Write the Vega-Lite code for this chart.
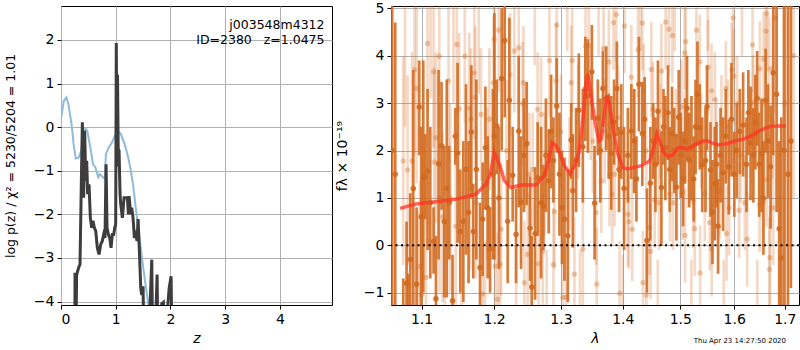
{
"$schema": "https://vega.github.io/schema/vega-lite/v6.json",
"padding": {"left": 3, "top": 0, "right": 0, "bottom": 0},
"background": "white",
"spacing": 59,
"bounds": "flush",
"config": {
 "font": "DejaVu Sans",
 "view": {"stroke": "black", "strokeWidth": 1},
 "axis": {"labelFont": "DejaVu Sans", "labelFontSize": 14, "labelColor": "black", "titleFont": "DejaVu Sans", "titleFontSize": 14, "titleFontWeight": "normal", "titleColor": "black", "tickColor": "black", "tickSize": 4, "labelPadding": 3, "domain": false, "gridColor": "#b0b0b0", "gridWidth": 1, "gridOpacity": 1},
 "title": {"font": "DejaVu Sans", "fontWeight": "normal", "color": "black"}
},
"datasets": {
 "chi2": [
  {"z":0.0,"v":0.18},{"z":0.05,"v":0.6},{"z":0.1,"v":0.68},{"z":0.14,"v":0.5},{"z":0.2,"v":0.0},{"z":0.23,"v":-0.39},{"z":0.27,"v":-0.72},{"z":0.32,"v":-0.7},{"z":0.37,"v":-0.55},{"z":0.4,"v":-0.25},{"z":0.445,"v":-0.03},{"z":0.48,"v":-0.08},{"z":0.54,"v":-0.5},{"z":0.585,"v":-0.85},{"z":0.63,"v":-0.93},{"z":0.68,"v":-1.15},{"z":0.71,"v":-1.08},{"z":0.76,"v":-1.14},{"z":0.8,"v":-1.19},{"z":0.82,"v":-0.62},{"z":0.87,"v":-0.47},{"z":0.93,"v":-0.35},{"z":0.99,"v":-0.18},{"z":1.04,"v":-0.1},{"z":1.09,"v":-0.15},{"z":1.15,"v":-0.35},{"z":1.21,"v":-0.6},{"z":1.27,"v":-0.95},{"z":1.32,"v":-1.35},{"z":1.365,"v":-1.85},{"z":1.426,"v":-2.46},{"z":1.487,"v":-3.08},{"z":1.548,"v":-3.65},{"z":1.6,"v":-4.1},{"z":1.7,"v":-5},{"z":4.9,"v":-20}
 ],
 "pz": [
  {"z":0.0,"v":-15},{"z":0.24,"v":-12},{"z":0.256,"v":-3.34},{"z":0.268,"v":-5.5},{"z":0.285,"v":-3.4},{"z":0.305,"v":-3.3},{"z":0.329,"v":-3.2},{"z":0.347,"v":-3.15},{"z":0.366,"v":-1.7},{"z":0.39,"v":0.11},{"z":0.414,"v":-1.62},{"z":0.433,"v":-0.08},{"z":0.451,"v":-1.23},{"z":0.469,"v":-0.77},{"z":0.487,"v":-1.54},{"z":0.512,"v":-1.31},{"z":0.536,"v":-2.08},{"z":0.561,"v":-2.31},{"z":0.585,"v":-2.15},{"z":0.609,"v":-2.31},{"z":0.634,"v":-2.38},{"z":0.664,"v":-2.77},{"z":0.695,"v":-2.92},{"z":0.725,"v":-2.69},{"z":0.755,"v":-2.61},{"z":0.78,"v":-2.46},{"z":0.804,"v":-2.54},{"z":0.823,"v":-0.85},{"z":0.841,"v":-2.31},{"z":0.865,"v":-2.46},{"z":0.89,"v":-2.54},{"z":0.914,"v":-2.77},{"z":0.938,"v":-2.46},{"z":0.963,"v":-2.46},{"z":0.981,"v":-2.31},{"z":0.999,"v":-2.23},{"z":1.01,"v":1.93},{"z":1.022,"v":-0.9},{"z":1.032,"v":1.2},{"z":1.045,"v":-0.5},{"z":1.06,"v":-0.54},{"z":1.079,"v":-1.54},{"z":1.091,"v":-1.77},{"z":1.121,"v":-2.08},{"z":1.152,"v":-1.62},{"z":1.182,"v":-1.62},{"z":1.213,"v":-1.62},{"z":1.231,"v":-2.0},{"z":1.243,"v":-1.58},{"z":1.274,"v":-2.0},{"z":1.292,"v":-1.85},{"z":1.316,"v":-2.08},{"z":1.34,"v":-2.54},{"z":1.365,"v":-2.46},{"z":1.389,"v":-2.61},{"z":1.408,"v":-2.11},{"z":1.432,"v":-2.85},{"z":1.457,"v":-3.69},{"z":1.475,"v":-3.85},{"z":1.499,"v":-3.65},{"z":1.524,"v":-6},{"z":1.548,"v":-4.5},{"z":1.57,"v":-6},{"z":1.658,"v":-3.04},{"z":1.682,"v":-6},{"z":1.731,"v":-4.4},{"z":1.755,"v":-3.38},{"z":1.78,"v":-6},{"z":1.84,"v":-4.05},{"z":1.87,"v":-4.02},{"z":1.9,"v":-6},{"z":1.95,"v":-4.1},{"z":1.975,"v":-3.7},{"z":2.011,"v":-3.42},{"z":2.036,"v":-6},{"z":2.3,"v":-10},{"z":4.9,"v":-20}
 ],
 "model": [
  {"w":1.072,"v":0.78},{"w":1.0927,"v":0.87},{"w":1.119,"v":0.92},{"w":1.1456,"v":0.97},{"w":1.174,"v":1.08},{"w":1.1884,"v":1.29},{"w":1.1944,"v":1.5},{"w":1.2002,"v":1.96},{"w":1.2076,"v":1.71},{"w":1.215,"v":1.36},{"w":1.2244,"v":1.22},{"w":1.2393,"v":1.27},{"w":1.2518,"v":1.27},{"w":1.2618,"v":1.27},{"w":1.2669,"v":1.36},{"w":1.2745,"v":1.47},{"w":1.2822,"v":1.85},{"w":1.2863,"v":2.17},{"w":1.2925,"v":2.1},{"w":1.2977,"v":1.96},{"w":1.3055,"v":1.68},{"w":1.3145,"v":1.51},{"w":1.3225,"v":1.71},{"w":1.3282,"v":1.96},{"w":1.3346,"v":2.63},{"w":1.34,"v":3.47},{"w":1.3427,"v":3.61},{"w":1.3466,"v":3.26},{"w":1.3547,"v":2.56},{"w":1.3605,"v":2.2},{"w":1.3644,"v":2.24},{"w":1.3687,"v":2.7},{"w":1.3736,"v":3.16},{"w":1.378,"v":2.98},{"w":1.3835,"v":2.49},{"w":1.3918,"v":1.92},{"w":1.4002,"v":1.64},{"w":1.4086,"v":1.61},{"w":1.4314,"v":1.68},{"w":1.4458,"v":1.78},{"w":1.4545,"v":2.13},{"w":1.4585,"v":2.35},{"w":1.4633,"v":2.2},{"w":1.4691,"v":1.99},{"w":1.478,"v":1.87},{"w":1.4869,"v":1.91},{"w":1.4958,"v":2.06},{"w":1.5049,"v":2.06},{"w":1.5139,"v":2.03},{"w":1.5262,"v":2.12},{"w":1.5415,"v":2.2},{"w":1.5508,"v":2.2},{"w":1.5601,"v":2.15},{"w":1.5726,"v":2.12},{"w":1.5885,"v":2.15},{"w":1.6013,"v":2.2},{"w":1.6205,"v":2.25},{"w":1.6335,"v":2.31},{"w":1.65,"v":2.42},{"w":1.6699,"v":2.51},{"w":1.6867,"v":2.52},{"w":1.7022,"v":2.52}
 ],
 "dark": [
  {"w":1.062,"f":2.0,"lo":-3.0,"hi":7.0},{"w":1.0659,"f":1.5,"lo":-1.7,"hi":4.7},{"w":1.0762,"f":-1.5,"lo":-2.3,"hi":-0.7},{"w":1.0805,"f":-0.8,"lo":-2.2,"hi":0.5},{"w":1.0827,"f":-1.5,"lo":-2.4,"hi":-0.6},{"w":1.0853,"f":-0.3,"lo":-1.7,"hi":1.1},{"w":1.0892,"f":1.2,"lo":-1.3,"hi":3.7},{"w":1.0935,"f":-0.82,"lo":-2.4,"hi":0.8},{"w":1.097,"f":2.92,"lo":1.9,"hi":3.9},{"w":1.0996,"f":0.6,"lo":-1.3,"hi":2.5},{"w":1.1023,"f":1.43,"lo":-1.0,"hi":3.9},{"w":1.1049,"f":1.44,"lo":0.55,"hi":2.35},{"w":1.108,"f":1.57,"lo":-0.1,"hi":3.3},{"w":1.1116,"f":0.9,"lo":-0.7,"hi":2.5},{"w":1.116,"f":0.08,"lo":-0.6,"hi":0.8},{"w":1.1192,"f":-1.13,"lo":-2.4,"hi":0.2},{"w":1.1227,"f":1.72,"lo":-0.3,"hi":3.7},{"w":1.1267,"f":2.1,"lo":0.75,"hi":3.45},{"w":1.1304,"f":0.5,"lo":-1.1,"hi":2.1},{"w":1.1338,"f":1.2,"lo":-1.1,"hi":3.5},{"w":1.1372,"f":0.9,"lo":-0.3,"hi":2.1},{"w":1.1417,"f":-1.17,"lo":-2.2,"hi":-0.2},{"w":1.1454,"f":2.3,"lo":1.7,"hi":2.9},{"w":1.1486,"f":1.95,"lo":0.05,"hi":3.85},{"w":1.1523,"f":0.29,"lo":-1.0,"hi":1.6},{"w":1.1565,"f":0.51,"lo":-1.2,"hi":2.2},{"w":1.1602,"f":1.6,"lo":-0.2,"hi":3.4},{"w":1.1638,"f":0.69,"lo":-0.8,"hi":2.2},{"w":1.1676,"f":2.39,"lo":1.0,"hi":3.8},{"w":1.1704,"f":0.29,"lo":-0.7,"hi":1.3},{"w":1.1747,"f":1.6,"lo":-0.3,"hi":3.5},{"w":1.1799,"f":-0.47,"lo":-1.9,"hi":0.9},{"w":1.1836,"f":0.55,"lo":-0.65,"hi":1.75},{"w":1.1875,"f":2.06,"lo":0.75,"hi":3.35},{"w":1.1908,"f":0.79,"lo":-0.7,"hi":2.3},{"w":1.1942,"f":-0.08,"lo":-1.0,"hi":0.8},{"w":1.1982,"f":1.5,"lo":-0.3,"hi":3.3},{"w":1.2004,"f":2.3,"lo":-0.3,"hi":4.9},{"w":1.2037,"f":2.52,"lo":1.5,"hi":3.5},{"w":1.2069,"f":1.0,"lo":-0.5,"hi":2.5},{"w":1.2109,"f":3.52,"lo":2.0,"hi":5.0},{"w":1.2153,"f":4.32,"lo":2.7,"hi":5.9},{"w":1.2197,"f":0.51,"lo":-0.8,"hi":1.8},{"w":1.2221,"f":3.06,"lo":1.3,"hi":4.8},{"w":1.227,"f":1.48,"lo":0.5,"hi":2.5},{"w":1.232,"f":0.23,"lo":-0.8,"hi":1.2},{"w":1.2359,"f":2.41,"lo":0.8,"hi":4.0},{"w":1.2394,"f":0.91,"lo":-0.5,"hi":2.3},{"w":1.2436,"f":1.9,"lo":0.7,"hi":3.1},{"w":1.2478,"f":2.15,"lo":0.85,"hi":3.45},{"w":1.2529,"f":0.36,"lo":-0.75,"hi":1.45},{"w":1.2553,"f":-0.88,"lo":-2.0,"hi":0.2},{"w":1.2604,"f":0.25,"lo":-1.15,"hi":1.65},{"w":1.2643,"f":1.43,"lo":0.2,"hi":2.6},{"w":1.2695,"f":0.9,"lo":-0.7,"hi":2.5},{"w":1.273,"f":0.83,"lo":-0.1,"hi":1.7},{"w":1.2768,"f":1.9,"lo":0.7,"hi":3.1},{"w":1.2811,"f":1.36,"lo":0.25,"hi":2.45},{"w":1.2848,"f":2.4,"lo":1.2,"hi":3.6},{"w":1.2884,"f":1.79,"lo":0.9,"hi":2.7},{"w":1.2935,"f":2.94,"lo":1.95,"hi":3.95},{"w":1.2977,"f":1.5,"lo":0.2,"hi":2.8},{"w":1.3016,"f":0.8,"lo":-0.4,"hi":2.0},{"w":1.3055,"f":0.55,"lo":-0.75,"hi":1.85},{"w":1.3108,"f":0.2,"lo":-1.2,"hi":1.6},{"w":1.3161,"f":2.22,"lo":1.4,"hi":3.0},{"w":1.3187,"f":1.15,"lo":-0.05,"hi":2.35},{"w":1.3238,"f":1.8,"lo":0.7,"hi":2.9},{"w":1.3282,"f":2.85,"lo":1.65,"hi":4.05},{"w":1.3346,"f":2.08,"lo":0.9,"hi":3.3},{"w":1.3386,"f":3.3,"lo":2.2,"hi":4.4},{"w":1.3426,"f":3.15,"lo":1.95,"hi":4.35},{"w":1.3491,"f":3.66,"lo":2.65,"hi":4.65},{"w":1.3535,"f":0.89,"lo":-0.3,"hi":2.1},{"w":1.3588,"f":2.68,"lo":1.9,"hi":3.5},{"w":1.3629,"f":2.0,"lo":0.9,"hi":3.1},{"w":1.367,"f":3.31,"lo":2.5,"hi":4.1},{"w":1.3725,"f":3.09,"lo":2.0,"hi":4.2},{"w":1.3767,"f":2.3,"lo":1.4,"hi":3.2},{"w":1.3808,"f":1.95,"lo":0.75,"hi":3.15},{"w":1.3854,"f":2.6,"lo":1.7,"hi":3.5},{"w":1.3901,"f":3.31,"lo":2.3,"hi":4.3},{"w":1.3938,"f":1.6,"lo":0.7,"hi":2.5},{"w":1.3975,"f":2.38,"lo":1.4,"hi":3.4},{"w":1.4022,"f":1.2,"lo":-0.1,"hi":2.5},{"w":1.4086,"f":1.9,"lo":0.9,"hi":2.9},{"w":1.4144,"f":2.41,"lo":1.4,"hi":3.4},{"w":1.4192,"f":2.2,"lo":1.1,"hi":3.3},{"w":1.4231,"f":1.4,"lo":0.5,"hi":2.3},{"w":1.4274,"f":3.4,"lo":2.4,"hi":4.4},{"w":1.4332,"f":2.36,"lo":1.25,"hi":3.45},{"w":1.4372,"f":2.66,"lo":1.75,"hi":3.55},{"w":1.4412,"f":0.1,"lo":-1.0,"hi":1.2},{"w":1.447,"f":1.31,"lo":0.1,"hi":2.5},{"w":1.4519,"f":2.2,"lo":1.4,"hi":3.0},{"w":1.4559,"f":1.7,"lo":0.7,"hi":2.7},{"w":1.4603,"f":2.83,"lo":1.7,"hi":3.9},{"w":1.4663,"f":1.22,"lo":0.0,"hi":2.4},{"w":1.47,"f":2.5,"lo":1.7,"hi":3.3},{"w":1.4733,"f":2.06,"lo":0.95,"hi":3.15},{"w":1.478,"f":2.8,"lo":1.8,"hi":3.8},{"w":1.481,"f":1.6,"lo":0.7,"hi":2.5},{"w":1.4851,"f":2.36,"lo":1.35,"hi":3.35},{"w":1.489,"f":2.0,"lo":1.1,"hi":2.9},{"w":1.493,"f":1.23,"lo":0.1,"hi":2.35},{"w":1.4971,"f":2.7,"lo":1.7,"hi":3.7},{"w":1.5007,"f":1.9,"lo":1.0,"hi":2.8},{"w":1.5049,"f":1.41,"lo":0.4,"hi":2.4},{"w":1.5085,"f":2.2,"lo":1.3,"hi":3.1},{"w":1.5121,"f":2.89,"lo":1.8,"hi":4.0},{"w":1.5161,"f":1.8,"lo":0.8,"hi":2.8},{"w":1.5201,"f":2.06,"lo":0.95,"hi":3.15},{"w":1.5243,"f":1.4,"lo":0.5,"hi":2.3},{"w":1.5276,"f":2.5,"lo":1.5,"hi":3.5},{"w":1.5311,"f":3.19,"lo":2.1,"hi":4.3},{"w":1.5353,"f":2.48,"lo":1.6,"hi":3.4},{"w":1.5399,"f":1.7,"lo":0.7,"hi":2.7},{"w":1.5459,"f":1.79,"lo":0.7,"hi":2.9},{"w":1.5488,"f":2.93,"lo":2.0,"hi":3.8},{"w":1.5552,"f":1.59,"lo":0.6,"hi":2.6},{"w":1.5589,"f":0.7,"lo":-0.4,"hi":1.8},{"w":1.5632,"f":1.3,"lo":0.1,"hi":2.5},{"w":1.5664,"f":1.71,"lo":0.8,"hi":2.6},{"w":1.5694,"f":0.4,"lo":-0.6,"hi":1.4},{"w":1.5741,"f":1.9,"lo":0.9,"hi":2.9},{"w":1.5789,"f":1.53,"lo":0.3,"hi":2.7},{"w":1.584,"f":2.3,"lo":1.3,"hi":3.3},{"w":1.5897,"f":1.65,"lo":0.65,"hi":2.65},{"w":1.5948,"f":2.66,"lo":1.45,"hi":3.85},{"w":1.6002,"f":1.5,"lo":0.6,"hi":2.4},{"w":1.605,"f":2.0,"lo":1.0,"hi":3.0},{"w":1.6108,"f":2.4,"lo":1.5,"hi":3.3},{"w":1.6172,"f":2.54,"lo":1.45,"hi":3.65},{"w":1.6238,"f":1.71,"lo":0.7,"hi":2.7},{"w":1.6274,"f":2.8,"lo":1.9,"hi":3.7},{"w":1.6317,"f":2.16,"lo":0.95,"hi":3.35},{"w":1.6372,"f":1.9,"lo":0.9,"hi":2.9},{"w":1.6411,"f":2.6,"lo":1.6,"hi":3.6},{"w":1.6447,"f":3.1,"lo":2.1,"hi":4.1},{"w":1.6486,"f":1.71,"lo":0.6,"hi":2.8},{"w":1.6534,"f":1.92,"lo":0.7,"hi":3.1},{"w":1.657,"f":1.0,"lo":-0.2,"hi":2.2},{"w":1.6614,"f":3.06,"lo":1.95,"hi":4.15},{"w":1.666,"f":2.2,"lo":1.0,"hi":3.4},{"w":1.6713,"f":1.66,"lo":0.35,"hi":2.95},{"w":1.6766,"f":3.64,"lo":1.9,"hi":5.4},{"w":1.6834,"f":3.19,"lo":0.7,"hi":5.7},{"w":1.6887,"f":0.35,"lo":-1.5,"hi":2.2},{"w":1.6928,"f":-0.27,"lo":-3.3,"hi":2.7},{"w":1.6983,"f":2.0,"lo":-2.5,"hi":6.5},{"w":1.7064,"f":1.5,"lo":-2.5,"hi":5.5},{"w":1.7125,"f":2.2,"lo":-0.9,"hi":5.3}
 ],
 "light": [
  {"w":1.0762,"f":1.78,"lo":-0.42,"hi":3.98},{"w":1.0785,"f":5.5,"lo":2.5,"hi":8.5},{"w":1.0818,"f":1.59,"lo":-0.41,"hi":3.59},{"w":1.0875,"f":1.78,"lo":-0.52,"hi":4.08},{"w":1.0909,"f":3.71,"lo":1.91,"hi":5.51},{"w":1.0935,"f":3.31,"lo":1.31,"hi":5.31},{"w":1.0955,"f":-1.8,"lo":-4.3,"hi":0.7},{"w":1.0979,"f":-0.45,"lo":-2.25,"hi":1.35},{"w":1.1,"f":-1.05,"lo":-2.65,"hi":0.55},{"w":1.1058,"f":-0.68,"lo":-2.38,"hi":1.02},{"w":1.108,"f":4.26,"lo":2.76,"hi":5.76},{"w":1.112,"f":5.6,"lo":3.1,"hi":8.1},{"w":1.116,"f":3.66,"lo":2.06,"hi":5.26},{"w":1.1169,"f":1.76,"lo":-0.24,"hi":3.76},{"w":1.1192,"f":2.27,"lo":0.47,"hi":4.07},{"w":1.124,"f":1.0,"lo":-1.0,"hi":3.0},{"w":1.1236,"f":3.99,"lo":2.49,"hi":5.49},{"w":1.128,"f":0.6,"lo":-1.2,"hi":2.4},{"w":1.131,"f":-1.6,"lo":-3.8,"hi":0.6},{"w":1.1362,"f":3.47,"lo":1.77,"hi":5.17},{"w":1.1386,"f":1.0,"lo":-1.0,"hi":3.0},{"w":1.143,"f":5.3,"lo":3.0,"hi":7.6},{"w":1.146,"f":0.4,"lo":-1.6,"hi":2.4},{"w":1.1475,"f":4.24,"lo":2.74,"hi":5.74},{"w":1.1509,"f":2.88,"lo":1.28,"hi":4.48},{"w":1.154,"f":-1.5,"lo":-3.5,"hi":0.5},{"w":1.1586,"f":3.99,"lo":2.59,"hi":5.39},{"w":1.1648,"f":2.89,"lo":1.29,"hi":4.49},{"w":1.166,"f":1.2,"lo":-0.5,"hi":2.9},{"w":1.1672,"f":2.66,"lo":1.16,"hi":4.16},{"w":1.1718,"f":3.64,"lo":2.24,"hi":5.04},{"w":1.1732,"f":3.12,"lo":1.62,"hi":4.62},{"w":1.1742,"f":0.9,"lo":-0.7,"hi":2.5},{"w":1.178,"f":5.2,"lo":3.2,"hi":7.2},{"w":1.1813,"f":2.76,"lo":1.36,"hi":4.16},{"w":1.1836,"f":-1.03,"lo":-2.53,"hi":0.47},{"w":1.187,"f":-1.7,"lo":-3.5,"hi":0.1},{"w":1.19,"f":1.3,"lo":-0.3,"hi":2.9},{"w":1.1932,"f":2.66,"lo":1.16,"hi":4.16},{"w":1.199,"f":3.43,"lo":2.03,"hi":4.83},{"w":1.2003,"f":4.35,"lo":3.05,"hi":5.65},{"w":1.2015,"f":-0.44,"lo":-1.84,"hi":0.96},{"w":1.2051,"f":-1.14,"lo":-2.54,"hi":0.26},{"w":1.2066,"f":4.54,"lo":3.24,"hi":5.84},{"w":1.2086,"f":-0.4,"lo":-1.7,"hi":0.9},{"w":1.2101,"f":0.34,"lo":-1.06,"hi":1.74},{"w":1.214,"f":5.4,"lo":3.9,"hi":6.9},{"w":1.218,"f":2.0,"lo":0.5,"hi":3.5},{"w":1.2231,"f":3.6,"lo":2.3,"hi":4.9},{"w":1.2294,"f":4.1,"lo":2.8,"hi":5.4},{"w":1.232,"f":-1.5,"lo":-3.0,"hi":0.0},{"w":1.2359,"f":4.17,"lo":2.97,"hi":5.37},{"w":1.2418,"f":2.99,"lo":1.69,"hi":4.29},{"w":1.2429,"f":3.43,"lo":2.23,"hi":4.63},{"w":1.2443,"f":-0.79,"lo":-2.09,"hi":0.51},{"w":1.246,"f":2.1,"lo":0.8,"hi":3.4},{"w":1.2493,"f":-0.19,"lo":-1.49,"hi":1.11},{"w":1.2518,"f":1.5,"lo":0.2,"hi":2.8},{"w":1.2568,"f":1.6,"lo":0.4,"hi":2.8},{"w":1.26,"f":5.3,"lo":3.8,"hi":6.8},{"w":1.2643,"f":2.87,"lo":1.67,"hi":4.07},{"w":1.2658,"f":-0.39,"lo":-1.69,"hi":0.91},{"w":1.2695,"f":2.76,"lo":1.56,"hi":3.96},{"w":1.272,"f":-0.12,"lo":-1.32,"hi":1.08},{"w":1.275,"f":1.5,"lo":0.2,"hi":2.8},{"w":1.278,"f":-1.5,"lo":-2.9,"hi":-0.1},{"w":1.2822,"f":3.9,"lo":2.7,"hi":5.1},{"w":1.2884,"f":-0.41,"lo":-1.61,"hi":0.79},{"w":1.2899,"f":0.71,"lo":-0.49,"hi":1.91},{"w":1.2925,"f":3.48,"lo":2.28,"hi":4.68},{"w":1.2935,"f":4.65,"lo":3.55,"hi":5.75},{"w":1.3,"f":2.4,"lo":1.2,"hi":3.6},{"w":1.3029,"f":-1.1,"lo":-2.3,"hi":0.1},{"w":1.3081,"f":-1.1,"lo":-2.3,"hi":0.1},{"w":1.31,"f":5.4,"lo":4.1,"hi":6.7},{"w":1.3134,"f":1.5,"lo":0.3,"hi":2.7},{"w":1.3161,"f":3.43,"lo":2.23,"hi":4.63},{"w":1.3177,"f":3.9,"lo":2.8,"hi":5.0},{"w":1.3212,"f":-0.61,"lo":-1.81,"hi":0.59},{"w":1.327,"f":2.6,"lo":1.4,"hi":3.8},{"w":1.33,"f":-1.6,"lo":-3.1,"hi":-0.1},{"w":1.3346,"f":-0.08,"lo":-1.28,"hi":1.12},{"w":1.339,"f":4.2,"lo":3.1,"hi":5.3},{"w":1.3442,"f":4.22,"lo":3.12,"hi":5.32},{"w":1.347,"f":3.0,"lo":1.8,"hi":4.2},{"w":1.3507,"f":2.2,"lo":1.1,"hi":3.3},{"w":1.3561,"f":0.69,"lo":-0.41,"hi":1.79},{"w":1.357,"f":-0.82,"lo":-2.02,"hi":0.38},{"w":1.36,"f":5.3,"lo":4.0,"hi":6.6},{"w":1.3644,"f":1.36,"lo":0.26,"hi":2.46},{"w":1.3681,"f":4.15,"lo":3.05,"hi":5.25},{"w":1.37,"f":2.4,"lo":1.3,"hi":3.5},{"w":1.3769,"f":3.87,"lo":2.77,"hi":4.97},{"w":1.378,"f":1.5,"lo":0.4,"hi":2.6},{"w":1.3824,"f":1.08,"lo":-0.02,"hi":2.18},{"w":1.3846,"f":4.7,"lo":3.7,"hi":5.7},{"w":1.3863,"f":1.5,"lo":0.4,"hi":2.6},{"w":1.3891,"f":4.87,"lo":3.87,"hi":5.87},{"w":1.392,"f":2.7,"lo":1.6,"hi":3.8},{"w":1.3947,"f":-1.01,"lo":-2.11,"hi":0.09},{"w":1.4,"f":-1.5,"lo":-2.8,"hi":-0.2},{"w":1.403,"f":4.63,"lo":3.63,"hi":5.63},{"w":1.4086,"f":0.65,"lo":-0.45,"hi":1.75},{"w":1.4103,"f":0.5,"lo":-0.5,"hi":1.5},{"w":1.4144,"f":3.55,"lo":2.45,"hi":4.65},{"w":1.416,"f":0.34,"lo":-0.76,"hi":1.44},{"w":1.42,"f":2.2,"lo":1.1,"hi":3.3},{"w":1.4258,"f":4.13,"lo":3.13,"hi":5.13},{"w":1.43,"f":5.3,"lo":4.1,"hi":6.5},{"w":1.4332,"f":4.69,"lo":3.69,"hi":5.69},{"w":1.4343,"f":-0.79,"lo":-1.89,"hi":0.31},{"w":1.4355,"f":3.26,"lo":2.26,"hi":4.26},{"w":1.44,"f":2.0,"lo":1.0,"hi":3.0},{"w":1.4401,"f":-1.05,"lo":-2.15,"hi":0.05},{"w":1.4458,"f":0.37,"lo":-0.63,"hi":1.37},{"w":1.4475,"f":-0.13,"lo":-1.13,"hi":0.87},{"w":1.4487,"f":3.71,"lo":2.71,"hi":4.71},{"w":1.4515,"f":2.87,"lo":1.87,"hi":3.87},{"w":1.4545,"f":0.95,"lo":-0.05,"hi":1.95},{"w":1.46,"f":-1.5,"lo":-2.7,"hi":-0.3},{"w":1.4621,"f":0.9,"lo":-0.1,"hi":1.9},{"w":1.464,"f":2.4,"lo":1.4,"hi":3.4},{"w":1.4663,"f":3.68,"lo":2.68,"hi":4.68},{"w":1.4739,"f":4.71,"lo":3.71,"hi":5.71},{"w":1.4797,"f":4.56,"lo":3.56,"hi":5.56},{"w":1.4815,"f":1.08,"lo":0.08,"hi":2.08},{"w":1.4858,"f":4.43,"lo":3.43,"hi":5.43},{"w":1.4869,"f":0.9,"lo":-0.1,"hi":1.9},{"w":1.49,"f":5.4,"lo":4.1,"hi":6.7},{"w":1.492,"f":2.3,"lo":1.3,"hi":3.3},{"w":1.502,"f":2.92,"lo":1.92,"hi":3.92},{"w":1.5037,"f":1.11,"lo":0.11,"hi":2.11},{"w":1.5079,"f":4.06,"lo":3.06,"hi":5.06},{"w":1.5085,"f":0.21,"lo":-0.79,"hi":1.21},{"w":1.5097,"f":4.3,"lo":3.3,"hi":5.3},{"w":1.514,"f":1.8,"lo":0.8,"hi":2.8},{"w":1.52,"f":-1.6,"lo":-2.9,"hi":-0.3},{"w":1.5231,"f":0.94,"lo":-0.06,"hi":1.94},{"w":1.5262,"f":0.35,"lo":-0.65,"hi":1.35},{"w":1.5292,"f":4.54,"lo":3.54,"hi":5.54},{"w":1.5353,"f":3.87,"lo":2.87,"hi":4.87},{"w":1.536,"f":-0.58,"lo":-1.58,"hi":0.42},{"w":1.538,"f":2.2,"lo":1.2,"hi":3.2},{"w":1.5446,"f":1.09,"lo":0.09,"hi":2.09},{"w":1.5508,"f":3.76,"lo":2.76,"hi":4.76},{"w":1.5539,"f":0.48,"lo":-0.52,"hi":1.48},{"w":1.55,"f":5.3,"lo":4.1,"hi":6.5},{"w":1.5571,"f":3.26,"lo":2.26,"hi":4.26},{"w":1.5575,"f":-0.08,"lo":-1.08,"hi":0.92},{"w":1.5632,"f":3.08,"lo":2.08,"hi":4.08},{"w":1.566,"f":2.1,"lo":1.1,"hi":3.1},{"w":1.5726,"f":1.15,"lo":0.15,"hi":2.15},{"w":1.5758,"f":2.59,"lo":1.59,"hi":3.59},{"w":1.58,"f":-1.5,"lo":-2.7,"hi":-0.3},{"w":1.584,"f":3.31,"lo":2.31,"hi":4.31},{"w":1.5853,"f":0.25,"lo":-0.75,"hi":1.25},{"w":1.588,"f":2.5,"lo":1.5,"hi":3.5},{"w":1.5903,"f":0.79,"lo":-0.21,"hi":1.79},{"w":1.5955,"f":3.71,"lo":2.71,"hi":4.71},{"w":1.5979,"f":4.8,"lo":3.8,"hi":5.8},{"w":1.5992,"f":3.57,"lo":2.57,"hi":4.57},{"w":1.6056,"f":2.99,"lo":1.99,"hi":3.99},{"w":1.6095,"f":0.74,"lo":-0.26,"hi":1.74},{"w":1.612,"f":1.9,"lo":0.9,"hi":2.9},{"w":1.615,"f":5.3,"lo":4.0,"hi":6.6},{"w":1.6205,"f":0.9,"lo":-0.1,"hi":1.9},{"w":1.625,"f":0.13,"lo":-0.87,"hi":1.13},{"w":1.634,"f":2.3,"lo":1.3,"hi":3.3},{"w":1.6356,"f":4.23,"lo":3.23,"hi":5.23},{"w":1.6368,"f":3.01,"lo":2.01,"hi":4.01},{"w":1.645,"f":-1.6,"lo":-2.9,"hi":-0.3},{"w":1.6495,"f":0.86,"lo":-0.14,"hi":1.86},{"w":1.65,"f":3.73,"lo":2.73,"hi":4.73},{"w":1.655,"f":2.0,"lo":1.0,"hi":3.0},{"w":1.6566,"f":0.92,"lo":-0.08,"hi":1.92},{"w":1.6573,"f":3.93,"lo":2.93,"hi":4.93},{"w":1.662,"f":4.52,"lo":3.42,"hi":5.62},{"w":1.6633,"f":1.39,"lo":0.39,"hi":2.39},{"w":1.664,"f":4.89,"lo":3.79,"hi":5.99},{"w":1.6685,"f":3.73,"lo":2.63,"hi":4.83},{"w":1.669,"f":-0.51,"lo":-1.61,"hi":0.59},{"w":1.6699,"f":-0.26,"lo":-1.36,"hi":0.84},{"w":1.675,"f":2.6,"lo":1.4,"hi":3.8},{"w":1.6766,"f":0.79,"lo":-0.41,"hi":1.99},{"w":1.68,"f":4.8,"lo":2.8,"hi":6.8},{"w":1.7,"f":3.0,"lo":0.0,"hi":6.0},{"w":1.718,"f":4.0,"lo":1.0,"hi":7.0}
 ]
},
"hconcat": [
 {
  "width": 271, "height": 299,
  "title": {"text": ["j003548m4312", "ID=2380\u00a0\u00a0\u00a0z=1.0475"], "orient": "top", "anchor": "end", "frame": "group", "offset": -40, "dx": -7.5, "fontSize": 12.5, "lineHeight": 15},
  "layer": [
   {"data": {"name": "chi2"}, "mark": {"type": "line", "color": "#8fbbda", "strokeWidth": 2, "clip": true},
    "encoding": {
     "x": {"field": "z", "type": "quantitative", "title": "z", "scale": {"domain": [0, 4.95], "nice": false, "zero": false}, "axis": {"values": [0, 1, 2, 3, 4], "titleFontStyle": "italic", "titlePadding": 5}},
     "y": {"field": "v", "type": "quantitative", "title": "log p(z) / χ² = 5230/5204 = 1.01", "scale": {"domain": [-4.08, 2.78], "nice": false, "zero": false}, "axis": {"values": [-4, -3, -2, -1, 0, 1, 2], "titlePadding": 16, "titleFontSize": 12.5}}
    }},
   {"data": {"name": "pz"}, "mark": {"type": "line", "color": "#3d3d3d", "strokeWidth": 3, "clip": true},
    "encoding": {
     "x": {"field": "z", "type": "quantitative", "title": "z"},
     "y": {"field": "v", "type": "quantitative", "title": "log p(z) / χ² = 5230/5204 = 1.01"}
    }}
  ]
 },
 {
  "width": 408, "height": 299,
  "title": {"text": "Thu Apr 23 14:27:50 2020", "orient": "bottom", "anchor": "end", "frame": "group", "offset": -8, "dx": -13, "fontSize": 7},
  "layer": [
   {"data": {"name": "light"}, "mark": {"type": "rule", "color": "#d2691e", "opacity": 0.25, "strokeWidth": 2.7, "clip": true},
    "encoding": {
     "x": {"field": "w", "type": "quantitative", "title": "λ", "scale": {"type": "log", "domain": [1.0605, 1.7292], "nice": false}, "axis": {"values": [1.1, 1.2, 1.3, 1.4, 1.5, 1.6, 1.7], "format": ".1f", "titleFontStyle": "italic", "titlePadding": 5}},
     "y": {"field": "lo", "type": "quantitative", "title": "fλ × 10⁻¹⁹", "scale": {"domain": [-1.26, 5.05], "nice": false, "zero": false}, "axis": {"values": [-1, 0, 1, 2, 3, 4, 5], "titlePadding": 14}},
     "y2": {"field": "hi"}
    }},
   {"data": {"name": "light"}, "mark": {"type": "circle", "color": "#d2691e", "opacity": 0.35, "size": 28, "clip": true},
    "encoding": {
     "x": {"field": "w", "type": "quantitative", "title": "λ"},
     "y": {"field": "f", "type": "quantitative", "title": "fλ × 10⁻¹⁹"}
    }},
   {"data": {"name": "dark"}, "mark": {"type": "rule", "color": "#d2691e", "opacity": 0.88, "strokeWidth": 2.7, "clip": true},
    "encoding": {
     "x": {"field": "w", "type": "quantitative", "title": "λ"},
     "y": {"field": "lo", "type": "quantitative", "title": "fλ × 10⁻¹⁹"},
     "y2": {"field": "hi"}
    }},
   {"data": {"name": "dark"}, "mark": {"type": "circle", "color": "#d2691e", "opacity": 0.9, "size": 30, "clip": true},
    "encoding": {
     "x": {"field": "w", "type": "quantitative", "title": "λ"},
     "y": {"field": "f", "type": "quantitative", "title": "fλ × 10⁻¹⁹"}
    }},
   {"data": {"name": "model"}, "mark": {"type": "line", "color": "#ff3424", "opacity": 0.75, "strokeWidth": 3.5, "clip": true},
    "encoding": {
     "x": {"field": "w", "type": "quantitative", "title": "λ"},
     "y": {"field": "v", "type": "quantitative", "title": "fλ × 10⁻¹⁹"}
    }},
   {"data": {"values": [{}]}, "mark": {"type": "rule", "color": "black", "strokeWidth": 2, "strokeDash": [2, 3.5]},
    "encoding": {"y": {"datum": 0, "type": "quantitative"}}}
  ]
 }
]
}
